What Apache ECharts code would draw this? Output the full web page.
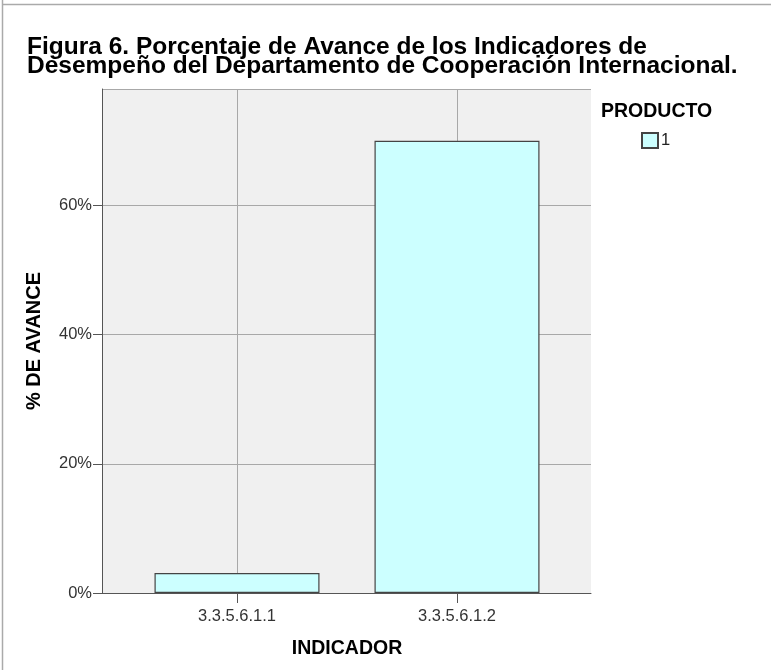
<!DOCTYPE html>
<html>
<head>
<meta charset="utf-8">
<style>
  html, body { margin: 0; padding: 0; background: #fff; }
  #chart { width: 771px; height: 670px; }
</style>
<script src="https://cdn.jsdelivr.net/npm/echarts@6/dist/echarts.min.js"></script>
</head>
<body>
<div id="chart"></div>
<script>
// datos
var indicadores = ['3.3.5.6.1.1', '3.3.5.6.1.2'];
var avance = [3.1, 70];
var producto = '1';
var yTicks = [0, 20, 40, 60];

var fontFam = '"Liberation Sans", Arial, sans-serif';
var gridColor = '#a8a8a8';
var axisColor = '#555';

var myChart = echarts.init(document.getElementById('chart'));

var option = {
    animation: false,
    backgroundColor: '#fff',
    title: [{
        text: 'Figura 6. Porcentaje de Avance de los Indicadores de\nDesempeño del Departamento de Cooperación Internacional.',
        left: 27,
        top: 38,
        padding: 0,
        textStyle: {
            fontFamily: fontFam,
            fontWeight: 'bold',
            fontSize: 24.5,
            lineHeight: 19,
            color: '#000'
        }
    }, {
        text: 'PRODUCTO',
        left: 601,
        top: 102,
        padding: 0,
        textStyle: {
            fontFamily: fontFam,
            fontWeight: 'bold',
            fontSize: 19.5,
            color: '#000'
        }
    }],
    legend: {
        left: 641,
        top: 132,
        padding: 0,
        icon: 'rect',
        itemWidth: 16,
        itemHeight: 15,
        itemGap: 4,
        data: [producto],
        textStyle: {
            fontFamily: fontFam,
            fontSize: 16.5,
            color: '#222',
            padding: [0, 0, 0, -2]
        }
    },
    grid: [
        // area de fondo gris
        {left: 102, top: 89, width: 489, height: 504, show: true,
            backgroundColor: '#f0f0f0', borderWidth: 0},
        // area de las categorias
        {left: 127, top: 89, width: 440, height: 504}
    ],
    xAxis: [
        {
            type: 'value', gridIndex: 0, min: 0, max: 1,
            axisLine: {show: true, lineStyle: {color: axisColor, width: 1}},
            axisTick: {show: false},
            axisLabel: {show: false},
            splitLine: {show: false}
        },
        {
            type: 'category', gridIndex: 1, data: indicadores,
            name: 'INDICADOR',
            nameLocation: 'middle',
            nameGap: 46,
            nameTextStyle: {fontFamily: fontFam, fontWeight: 'bold', fontSize: 19.5, color: '#000'},
            axisLine: {show: false},
            axisTick: {show: true, alignWithLabel: true, length: 10, lineStyle: {color: axisColor}},
            axisLabel: {fontFamily: fontFam, fontSize: 16.5, color: '#333', margin: 15},
            splitLine: {show: false}
        },
        {
            // lineas verticales de la cuadricula en el centro de cada categoria
            type: 'category', gridIndex: 1, data: indicadores,
            axisLine: {show: false},
            axisTick: {show: true, inside: true, alignWithLabel: true, length: 504,
                lineStyle: {color: gridColor, width: 1}},
            axisLabel: {show: false},
            splitLine: {show: false}
        }
    ],
    yAxis: [
        {
            type: 'value', gridIndex: 0, min: 0, max: 78, interval: 20,
            name: '% DE AVANCE',
            nameLocation: 'middle',
            nameGap: 58,
            nameTextStyle: {fontFamily: fontFam, fontWeight: 'bold', fontSize: 20, color: '#000'},
            axisLine: {show: true, lineStyle: {color: axisColor, width: 1}},
            axisTick: {show: true, length: 9, lineStyle: {color: axisColor}},
            axisLabel: {
                fontFamily: fontFam, fontSize: 16.5, color: '#333', margin: 10,
                showMaxLabel: false,
                formatter: function (v) { return yTicks.indexOf(v) >= 0 ? v + '%' : ''; }
            },
            splitLine: {show: true, lineStyle: {color: gridColor, width: 1}}
        },
        {
            type: 'value', gridIndex: 1, min: 0, max: 78,
            show: false
        }
    ],
    series: [{
        name: producto,
        type: 'bar',
        xAxisIndex: 1,
        yAxisIndex: 1,
        barWidth: 165,
        data: avance,
        itemStyle: {
            color: '#ccffff',
            borderColor: '#444',
            borderWidth: 1.2
        }
    }],
    graphic: [
        {type: 'line', shape: {x1: 2.5, y1: 0, x2: 2.5, y2: 670}, style: {stroke: '#aaa', lineWidth: 1.5}},
        {type: 'line', shape: {x1: 2, y1: 4.5, x2: 771, y2: 4.5}, style: {stroke: '#aaa', lineWidth: 1.5}}
    ]
};
myChart.setOption(option);
</script>
</body>
</html>
